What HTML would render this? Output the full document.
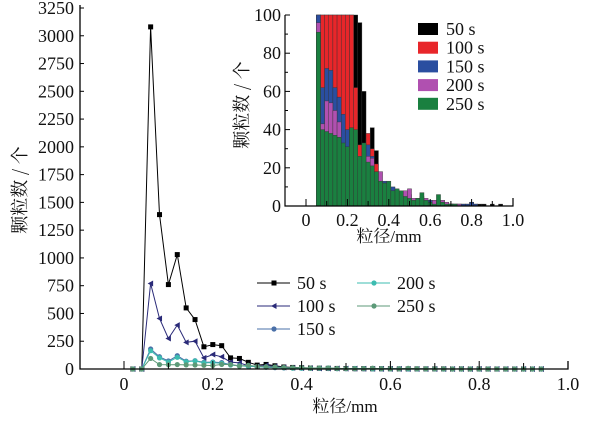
<!DOCTYPE html>
<html><head><meta charset="utf-8"><style>
body{margin:0;background:#fff;width:608px;height:424px;overflow:hidden}
text{font-family:"Liberation Serif","Noto Serif CJK SC",serif;fill:#111}
</style></head><body>
<svg id="s" width="608" height="424" xmlns="http://www.w3.org/2000/svg">
<rect width="608" height="424" fill="#fff"/>
<g id="main"></g>
<text x="26" y="190" font-size="18" transform="rotate(-90 26 190)" text-anchor="middle" style="font-family:'Noto Serif CJK SC',serif">颗粒数 / 个</text>
<text x="345" y="412" font-size="17" text-anchor="middle" style="font-family:'Liberation Serif','Noto Serif CJK SC',serif">粒径/mm</text>
<text x="248" y="105" font-size="18" transform="rotate(-90 248 105)" text-anchor="middle" style="font-family:'Noto Serif CJK SC',serif">颗粒数 / 个</text>
<text x="389" y="242" font-size="17" text-anchor="middle" style="font-family:'Liberation Serif','Noto Serif CJK SC',serif">粒径/mm</text>
</svg>
<script>
var S=document.getElementById('s'),G=document.getElementById('main'),NS="http://www.w3.org/2000/svg";
function el(t,a,p){var e=document.createElementNS(NS,t);for(var k in a)e.setAttribute(k,a[k]);(p||G).appendChild(e);return e;}
function tx(x,y,s,fs,anc){var e=el('text',{x:x,y:y,'font-size':fs,'text-anchor':anc||'middle'});e.textContent=s;return e;}
var X=function(v){return 124+444*v},Y=function(c){return 369-c*361/3250};
function pad(a){while(a.length<47)a.push(0);return a;}
var d50=pad([0,0,3080,1390,760,1030,550,445,200,220,210,100,95,60,35,41,29,18,14,12,9,7,6,5,4,3,3,2,2,2,1,1,1,1,1,1,0,1,0,1]);
var d100=pad([0,0,770,455,275,395,240,250,100,130,110,62,55,30,22,33,22,14,10,8,7,6,5,4,3,3,2,2,1,1,1]);
var d150=pad([0,0,180,110,72,120,70,75,60,62,58,40,30,25,20,16,12,10,9,8,6,5,4,3,3,2,2,2,1,1,1]);
var d200=pad([0,0,165,100,62,105,65,72,55,58,50,36,28,24,22,18,15,12,8,8,7,8,9,4,4,5,4,2,3,1,3,2,1,1,1]);
var d250=pad([0,0,95,40,39,40,37,36,33,31,41,40,26,33,23,21,18,13,12,13,8,9,8,5,4,3,4,7,3,2,1,6,2,1,1,1]);
var ser=[[d50,'#000','s'],[d100,'#2a2a78','t'],[d150,'#4a70a8','c'],[d200,'#3cbcb0','c'],[d250,'#5c9a78','c']];
ser.forEach(function(s){var p='';s[0].forEach(function(c,i){p+=(i?'L':'M')+X(0.02*(i+1)).toFixed(1)+' '+Y(c).toFixed(1)});
 el('path',{d:p,fill:'none',stroke:s[1],'stroke-width':1});
 s[0].forEach(function(c,i){mk(X(0.02*(i+1)),Y(c),s[2],s[1]);});});
function mk(x,y,t,c){if(t=='s')el('rect',{x:x-2.5,y:y-2.5,width:5,height:5,fill:c});
 else if(t=='t')el('path',{d:'M'+(x-3)+' '+y+'L'+(x+2.5)+' '+(y-3)+'L'+(x+2.5)+' '+(y+3)+'Z',fill:c});
 else el('circle',{cx:x,cy:y,r:2.6,fill:c});}
el('path',{d:'M80 5V369H568V361',fill:'none',stroke:'#000','stroke-width':1.3});
for(var v=0;v<=3250;v+=250){el('line',{x1:80,x2:84,y1:Y(v),y2:Y(v),stroke:'#000'});tx(74,Y(v)+6,v,18,'end');}
for(var i=0;i<=10;i++){var xx=X(i/10);el('line',{x1:xx,x2:xx,y1:369,y2:i%2?363:361,stroke:'#000'});if(i%2==0)tx(xx,390,i==0?'0':i==10?'1.0':(i/10).toFixed(1),18);}
var L=[[ '50 s','#000','s',257,288],['100 s','#2a2a78','t',257,311],['150 s','#4a70a8','c',257,334],['200 s','#3cbcb0','c',357,288],['250 s','#5c9a78','c',357,311]];
L.forEach(function(l){el('line',{x1:l[3],x2:l[3]+33,y1:l[4]-5,y2:l[4]-5,stroke:l[1]});mk(l[3]+17,l[4]-5,l[2],l[1]);tx(l[3]+40,l[4]+1,l[0],18,'start');});
var IX=function(v){return 306+207*v},IY=function(c){return 206-1.91*Math.min(c,100)};
function ip(a){while(a.length<47)a.push(0);return a;}
var i50=ip([0,0,100,100,100,100,100,100,100,100,100,100,96,60,35,41,29,12,8,6,5,4,3,4,3,2,2,3,2,2,1,1,1,1,1,1,1,1,1,2,1,1,1,0,1,0,1]);
var i100=ip([0,0,100,100,100,100,100,100,100,100,100,62,32,25,38,30,22,12,8,6,5,4,3,4,3,2,2,3,1,1,1,1,1,1,1]);
var i150=ip([0,0,100,62,72,71,62,57,48,40,40,22,25,28,32,26,15,10,13,8,10,7,6,5,6,3,3,2,2,3,2,1,1,1,1,1,1,1,1,2,1]);
var i200=ip([0,0,96,43,55,54,50,44,32,26,35,18,20,22,26,25,15,18,12,7,8,8,7,8,9,4,4,5,4,2,3,1,3,2,1,1,1]);
var i250=ip([0,0,91,40,39,38,37,36,33,31,41,40,26,33,23,21,18,13,12,13,8,9,8,5,4,3,4,7,3,2,1,6,2,1,1,1]);
[[i50,'#000'],[i100,'#e8262a'],[i150,'#2a4ea0'],[i200,'#b050b0'],[i250,'#1a8040']].forEach(function(s){
 s[0].forEach(function(c,i){if(c<=0)return;var v=0.02*(i+1);var x0=IX(v-0.01),y=IY(c);
 el('rect',{x:x0,y:y,width:207*0.02,height:206-y,fill:s[1],stroke:'#333','stroke-width':0.4});});});
el('path',{d:'M285 15V206H513V198',fill:'none',stroke:'#000','stroke-width':1.2});
for(var v=0;v<=100;v+=10){el('line',{x1:285,x2:v%20?288:290,y1:IY(v),y2:IY(v),stroke:'#000'});if(v%20==0)tx(281,IY(v)+6,v,18,'end');}
for(var i=0;i<=10;i++){var xx=IX(i/10);el('line',{x1:xx,x2:xx,y1:206,y2:i%2?201:199,stroke:'#000'});if(i%2==0)tx(xx,226,i==0?'0':i==10?'1.0':(i/10).toFixed(1),18);}
var IL=[['50 s','#000'],['100 s','#e8262a'],['150 s','#2a4ea0'],['200 s','#b050b0'],['250 s','#1a8040']];
IL.forEach(function(l,k){var y=23+k*18.7;el('rect',{x:418,y:y,width:20,height:12,fill:l[1]});tx(446,y+12,l[0],18,'start');});
</script>
</body></html>
